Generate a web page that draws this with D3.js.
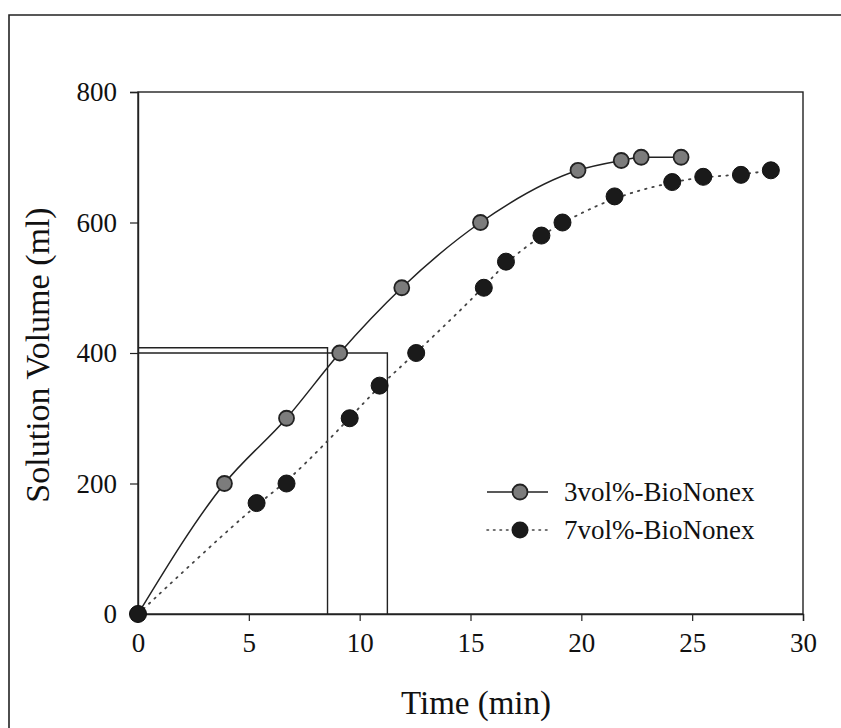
<!DOCTYPE html>
<html><head><meta charset="utf-8">
<script src="https://cdn.jsdelivr.net/npm/d3@7"></script>
<style>body{margin:0;background:#fff}svg{display:block}text{font-family:"Liberation Serif","Times New Roman",serif;fill:#111}</style>
</head><body>
<script>
const series1Name = "3vol%-BioNonex";
const series1Time = [0, 3.9, 6.7, 9.1, 11.9, 15.45, 19.85, 21.8, 22.7, 24.5];
const series1Vol  = [0, 200, 300, 400, 500, 600, 680, 695, 700, 700];
const series2Name = "7vol%-BioNonex";
const series2Time = [0, 5.35, 6.7, 9.55, 10.9, 12.55, 15.6, 16.6, 18.2, 19.15, 21.5, 24.1, 25.5, 27.2, 28.55];
const series2Vol  = [0, 170, 200, 300, 350, 400, 500, 540, 580, 600, 640, 662, 670, 673, 680];
const xTicks = [0, 5, 10, 15, 20, 25, 30];
const yTicks = [0, 200, 400, 600, 800];
const refTimes = [8.55, 11.25];
const refVols = [408, 400];
const xTitle = "Time (min)";
const yTitle = "Solution Volume (ml)";

const W = 841, H = 728;
const svg = d3.select("body").append("svg").attr("width", W).attr("height", H);
const pL = 138, pR = 803, pT = 92, pB = 614;
const x = d3.scaleLinear().domain([0, 30]).range([pL, pR]);
const y = d3.scaleLinear().domain([0, 800]).range([pB, pT]);

// outer frame
svg.append("path").attr("d", `M9,${H} L9,15 L${W},15`).attr("fill","none").attr("stroke","#222").attr("stroke-width",1.6);

// plot box
svg.append("rect").attr("x", pL).attr("y", pT).attr("width", pR-pL).attr("height", pB-pT)
  .attr("fill","none").attr("stroke","#222").attr("stroke-width",1.4);

// axes
const xAxis = d3.axisBottom(x).tickValues(xTicks).tickSize(7).tickPadding(12).tickFormat(d3.format("d"));
const gx = svg.append("g").attr("transform", `translate(0,${pB})`).call(xAxis);
const yAxis = d3.axisLeft(y).tickValues(yTicks).tickSize(8).tickPadding(13).tickFormat(d3.format("d"));
const gy = svg.append("g").attr("transform", `translate(${pL},0)`).call(yAxis);
[gx, gy].forEach(g => {
  g.select(".domain").attr("stroke","#222").attr("stroke-width",1.4);
  g.selectAll(".tick line").attr("stroke","#222").attr("stroke-width",1.2);
  g.selectAll(".tick text").attr("font-size", 27).attr("font-family","Liberation Serif").attr("fill","#111");
});

// reference lines
refTimes.forEach((t, i) => {
  svg.append("path").attr("d", `M${x(0)},${y(refVols[i])} L${x(t)},${y(refVols[i])} L${x(t)},${y(0)}`)
    .attr("fill","none").attr("stroke","#222").attr("stroke-width",1.4);
});

const d1 = series1Time.map((t,i)=>[t, series1Vol[i]]);
const d2 = series2Time.map((t,i)=>[t, series2Vol[i]]);

const line1 = d3.line().x(d=>x(d[0])).y(d=>y(d[1])).curve(d3.curveMonotoneX);
const line2 = d3.line().x(d=>x(d[0])).y(d=>y(d[1])).curve(d3.curveBasis);

svg.append("path").datum(d2).attr("d", line2).attr("fill","none").attr("stroke","#444")
  .attr("stroke-width",1.8).attr("stroke-dasharray","1.5,6").attr("stroke-linecap","round");
svg.append("path").datum(d1).attr("d", line1).attr("fill","none").attr("stroke","#222").attr("stroke-width",1.5);

svg.selectAll("circle.s1").data(d1).enter().append("circle").attr("class","s1")
  .attr("cx", d=>x(d[0])).attr("cy", d=>y(d[1])).attr("r", 7.5).attr("fill","#7c7c7c").attr("stroke","#222").attr("stroke-width",1.8);
svg.selectAll("circle.s2").data(d2).enter().append("circle").attr("class","s2")
  .attr("cx", d=>x(d[0])).attr("cy", d=>y(d[1])).attr("r", 8.5).attr("fill","#1a1a1a").attr("stroke","#111");

// legend
const lg = svg.append("g");
const lx0 = 487, lx1 = 548, lxm = 520;
lg.append("line").attr("x1",lx0).attr("x2",lx1).attr("y1",492).attr("y2",492).attr("stroke","#222").attr("stroke-width",1.5);
lg.append("circle").attr("cx",lxm).attr("cy",492).attr("r",7.5).attr("fill","#7c7c7c").attr("stroke","#222").attr("stroke-width",1.8);
lg.append("text").attr("x",564).attr("y",501).attr("font-size",27).text(series1Name);
lg.append("line").attr("x1",lx0).attr("x2",lx1).attr("y1",530).attr("y2",530).attr("stroke","#444").attr("stroke-width",1.6).attr("stroke-dasharray","1.5,5").attr("stroke-linecap","round");
lg.append("circle").attr("cx",lxm).attr("cy",530).attr("r",8.5).attr("fill","#1a1a1a");
lg.append("text").attr("x",564).attr("y",539).attr("font-size",27).text(series2Name);

// titles
svg.append("text").attr("x", 476).attr("y", 714).attr("text-anchor","middle").attr("font-size",33).text(xTitle);
svg.append("text").attr("transform", `translate(49,355) rotate(-90)`).attr("text-anchor","middle").attr("font-size",34).text(yTitle);
</script>
</body></html>
